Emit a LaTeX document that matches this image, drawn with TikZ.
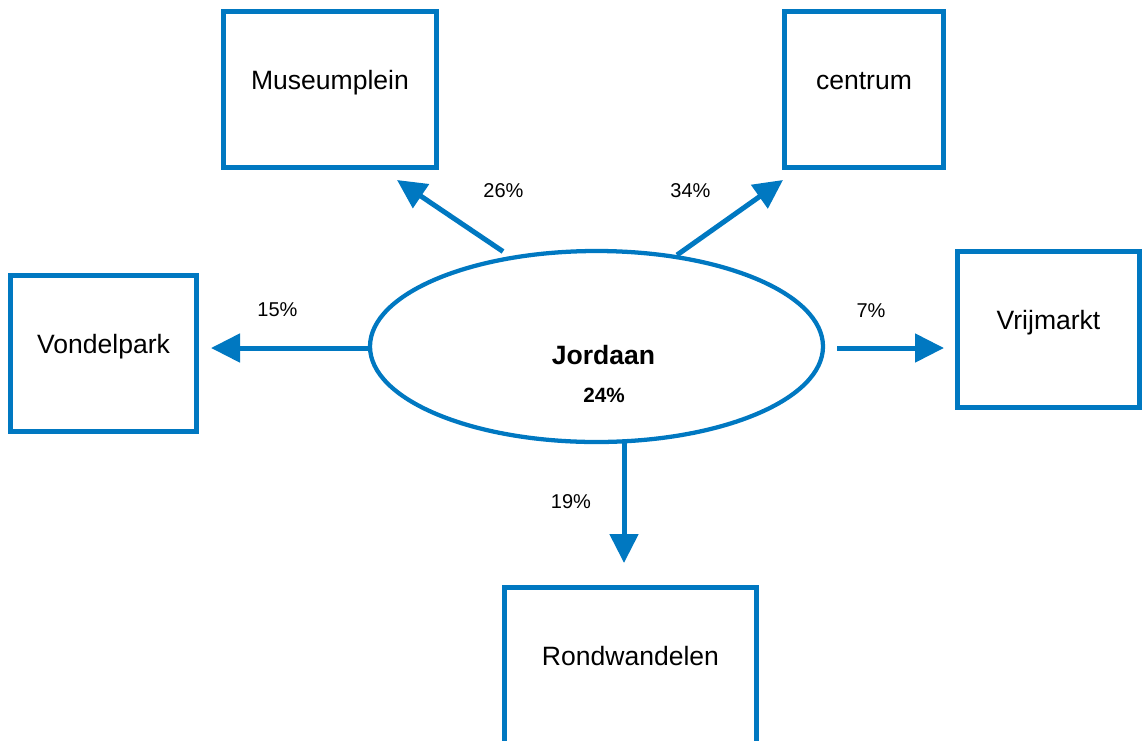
\documentclass[tikz,border=0pt]{standalone}
\usepackage{fontspec}
\setmainfont{Liberation Sans}
\usetikzlibrary{arrows.meta,shapes.geometric}
\definecolor{flowblue}{RGB}{0,120,193}
\begin{document}
\begin{tikzpicture}[x=0.75pt, y=-0.75pt,
    box/.style={draw=flowblue, line width=3.75pt, minimum height=117pt,
      text height=8pt, text depth=8pt, font=\fontsize{19.9}{24}\selectfont},
    hub/.style={draw=flowblue, line width=3.2pt, ellipse,
      minimum width=339.75pt, minimum height=143.25pt},
    flow/.style={draw=flowblue, line width=3.75pt,
      -{Triangle[length=21.75pt,width=21pt]}},
    pct/.style={font=\fontsize{15}{18}\selectfont}]
  \useasboundingbox (0,0) rectangle (1142,740);
  \node[hub] (jordaan) at (596.5,346.5) {};
  \node[anchor=base, font=\fontsize{19.9}{24}\selectfont\bfseries] (jordaan-name) at (603.5,364) {Jordaan};
  \node[anchor=base, font=\fontsize{15.5}{18}\selectfont\bfseries] (jordaan-pct) at (604,402) {24\%};
  \node[box, minimum width=159.75pt] (museum) at (330,89.5) {Museumplein};
  \node[box, minimum width=119.25pt] (centrum) at (864,89.5) {centrum};
  \node[box, minimum width=139.5pt] (vondel) at (103.5,353.5) {Vondelpark};
  \node[box, minimum width=136.5pt] (vrij) at (1048.5,329.5) {Vrijmarkt};
  \node[box, minimum width=189pt] (rond) at (630.5,665.5) {Rondwandelen};
  \coordinate (museum-from) at (503,251.5);
  \coordinate (museum-to) at (397,180);
  \coordinate (centrum-from) at (677,255);
  \coordinate (centrum-to) at (783,180);
  \coordinate (vondel-from) at (370,348);
  \coordinate (vondel-to) at (211,348);
  \coordinate (vrij-from) at (837,348);
  \coordinate (vrij-to) at (944,348);
  \coordinate (rond-from) at (624,443);
  \coordinate (rond-to) at (624,563);
  \draw[flow] (museum-from) -- (museum-to);
  \draw[flow] (centrum-from) -- (centrum-to);
  \draw[flow] (vondel-from) -- (vondel-to);
  \draw[flow] (vrij-from) -- (vrij-to);
  \draw[flow] (rond-from) -- (rond-to);
  \node[pct] (museum-pct) at (503.5,191) {26\%};
  \node[pct] (centrum-pct) at (690.5,191) {34\%};
  \node[pct] (vondel-pct) at (277.5,310) {15\%};
  \node[pct] (vrij-pct) at (871,311) {7\%};
  \node[pct] (rond-pct) at (571,502) {19\%};
\end{tikzpicture}
\end{document}
